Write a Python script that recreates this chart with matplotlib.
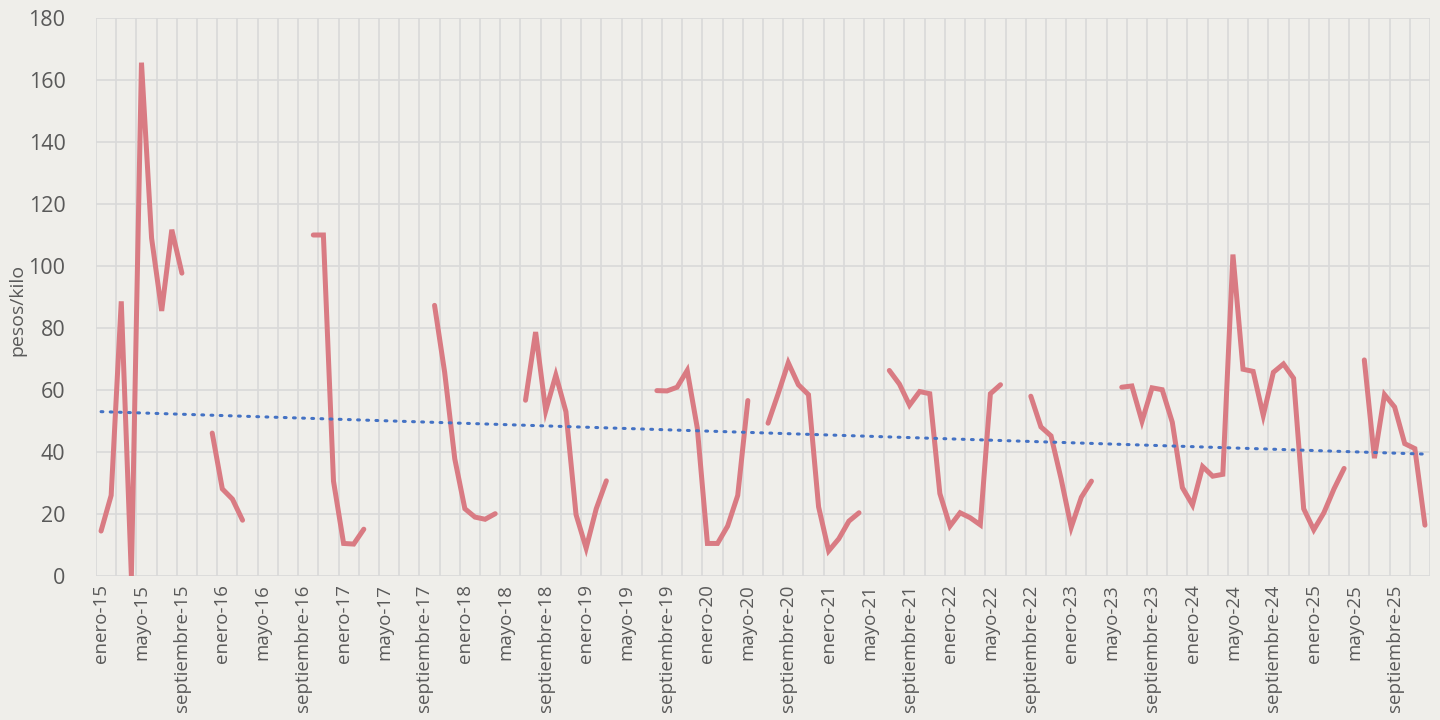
import numpy as np
import matplotlib
matplotlib.use('Agg')
from matplotlib import pyplot as plt

nan = np.nan

# precio mensual (pesos/kilo), enero-15 .. diciembre-25
p2015 = [14.5, 26.0, 88.6, 0.0, 165.6, 109.0, 85.5, 111.7, 97.7, nan, nan, 46.1]
p2016 = [28.1, 24.8, 18.0, nan, nan, nan, nan, nan, nan, 110.0, 110.0, 30.6]
p2017 = [10.5, 10.3, 15.1, nan, nan, nan, nan, nan, nan, 87.3, 65.7, 37.8]
p2018 = [21.7, 19.0, 18.3, 20.1, nan, nan, 56.7, 78.7, 53.3, 64.8, 53.0, 19.8]
p2019 = [9.0, 21.7, 30.7, nan, nan, nan, nan, 59.8, 59.7, 60.9, 66.3, 47.7]
p2020 = [10.5, 10.5, 16.1, 26.0, 56.6, nan, 49.3, 58.8, 68.8, 61.7, 58.5, 22.3]
p2021 = [8.1, 12.0, 17.7, 20.4, nan, nan, 66.3, 61.9, 55.1, 59.5, 58.8, 26.6]
p2022 = [16.1, 20.4, 18.8, 16.5, 58.8, 61.7, nan, nan, 58.0, 48.1, 45.2, 31.3]
p2023 = [15.7, 25.4, 30.6, nan, nan, 60.9, 61.3, 49.9, 60.7, 60.1, 49.6, 28.5]
p2024 = [22.9, 35.3, 32.2, 32.8, 103.7, 66.7, 66.0, 51.8, 65.7, 68.4, 63.8, 21.7]
p2025 = [14.9, 20.4, 28.1, 34.7, nan, 69.7, 38.0, 58.5, 54.5, 42.7, 41.1, 16.4]

meses = ['enero', 'febrero', 'marzo', 'abril', 'mayo', 'junio', 'julio',
         'agosto', 'septiembre', 'octubre', 'noviembre', 'diciembre']
anios = list(range(15, 26))

precio = np.array(p2015 + p2016 + p2017 + p2018 + p2019 + p2020 +
                  p2021 + p2022 + p2023 + p2024 + p2025)
etiquetas = [m + '-' + str(a) for a in anios for m in meses]

plt.rcParams['font.family'] = ['Open Sans', 'DejaVu Sans']
bg = '#efeeea'
gris = '#595959'

fig = plt.figure(figsize=(14.4, 7.2), dpi=100, facecolor=bg)
ax = fig.add_axes([96 / 1440, 1 - 576 / 720, (1430 - 96) / 1440, (576 - 18) / 720])
ax.set_facecolor(bg)

x = np.arange(len(precio))
ax.plot(x, precio, color='#d97b83', linewidth=3.6, solid_joinstyle='miter',
        solid_capstyle='round', zorder=3)

# linea de tendencia lineal
ok = ~np.isnan(precio)
m, b = np.polyfit(x[ok], precio[ok], 1)
ax.plot(x, m * x + b, color='#4472c4', linewidth=2.2,
        linestyle=(0, (0.6, 2.4)), dash_capstyle='round', zorder=4)

ax.set_xlim(-0.5, len(precio) - 0.5)
ax.set_ylim(0, 180)
ax.set_yticks(np.arange(0, 181, 20))
ax.set_xticks(x[::4])
ax.set_xticklabels(etiquetas[::4], rotation=90)
ax.set_xticks(np.arange(-0.5, len(precio), 2), minor=True)
ax.grid(axis='y', which='major', color='#d9d9d9', linewidth=1.2, zorder=0)
ax.grid(axis='x', which='minor', color='#d9d9d9', linewidth=1.2, zorder=0)
ax.grid(axis='x', which='major', visible=False)
ax.tick_params(axis='both', which='both', length=0, colors=gris)
ax.tick_params(axis='x', labelsize=13.5, pad=6)
ax.tick_params(axis='y', labelsize=15.5, pad=22)
for s in ax.spines.values():
    s.set_visible(False)

ax.set_ylabel('pesos/kilo', color=gris, fontsize=14)
ax.yaxis.set_label_coords(-0.0525, 0.477)

plt.savefig('out.png', facecolor=bg)
